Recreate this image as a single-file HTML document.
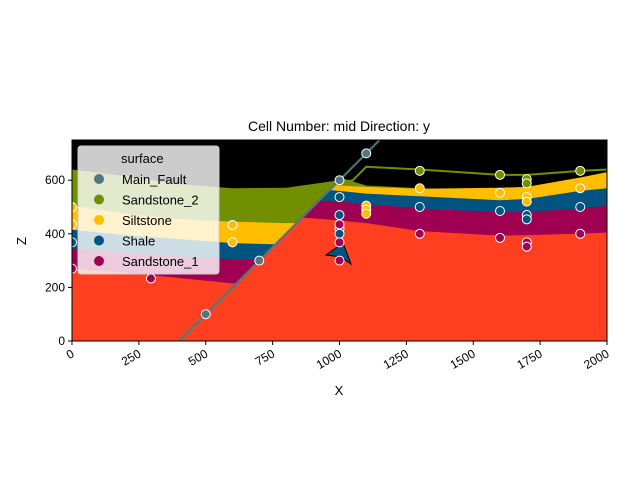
<!DOCTYPE html>
<html><head><meta charset="utf-8"><style>
body{margin:0;background:#fff;}
svg{display:block;font-family:"Liberation Sans","DejaVu Sans",sans-serif;}
</style></head><body>
<svg id="chart" width="640" height="480" viewBox="0 0 640 480">
<defs>
<clipPath id="clipL"><polygon points="72,140 378,140 178,341 72,341"/></clipPath>
<clipPath id="clipR"><polygon points="378,140 607,140 607,341 178,341"/></clipPath>
<clipPath id="clipAx"><rect x="72" y="140" width="535" height="201"/></clipPath>
</defs>
<text x="339" y="131" font-size="14" text-anchor="middle">Cell Number: mid Direction: y</text>
<rect x="72" y="140" width="535" height="201" fill="#000"/>
<g id="layers" clip-path="url(#clipAx)"></g>
<g id="marks" clip-path="url(#clipAx)"></g>
<g id="axes"></g>
<g id="legend">
<rect x="78" y="146" width="141" height="128" rx="3" fill="#fff" fill-opacity="0.8" stroke="#ccc"/>
<text x="121" y="163" font-size="13">surface</text>
</g>
<text x="339" y="395" font-size="13" text-anchor="middle">X</text>
<text x="26" y="241" font-size="13" text-anchor="middle" transform="rotate(-90 26 241)">Z</text>
</svg>
<script>
const surfaces=["Main_Fault","Sandstone_2","Siltstone","Shale","Sandstone_1"];
const colors=["#527682","#728f02","#ffbe00","#015482","#9f0052"];
const leftV=[0,200,400,600,800,1000,1200];
const leftOlive=[640,615,585,570,572,600,650];
const leftYellow=[505,475,455,445,440,440,440];
const leftBlue=[415,395,380,365,360,360,360];
const leftMagenta=[345,330,315,305,300,300,300];
const leftRed=[270,255,235,215,210,210,210];
const rightV=[400,800,1000,1100,1300,1600,1700,1900,2000];
const rightOlive=[660,640,610,580,570,560,562,585,600];
const rightYellow=[620,600,580,575,568,572,575,610,630];
const rightBlue=[590,575,560,550,540,525,530,560,570];
const rightMagenta=[545,530,520,510,495,480,482,495,505];
const rightRed=[480,465,450,440,410,393,395,400,405];
const oliveLineV=[1000,1050,1100,1300,1600,1700,1900,2000];
const oliveLineZ=[590,600,650,640,620,620,635,640];
const ptV=[500,700,1000,1100, 1300,1600,1700,1700,1900, 1100,1100,1100,1300,1600,1700,1700,1900,600,600,0,0, 1000,1000,1000,1000,1300,1600,1700,1700,1900,0, 1000,1000,1000,1300,1600,1700,1700,1900,295,0];
const ptZ=[100,300,600,700, 635,620,604,588,635, 505,490,475,570,553,537,520,570,433,368,500,435, 537,470,420,400,500,485,470,454,500,368, 435,368,300,400,385,368,352,400,233,270];
const ptS=[0,0,0,0, 1,1,1,1,1, 2,2,2,2,2,2,2,2,2,2,2,2, 3,3,3,3,3,3,3,3,3,3, 4,4,4,4,4,4,4,4,4,4];
const xTicks=[0,250,500,750,1000,1250,1500,1750,2000];
const yTicks=[0,200,400,600];
const NS='http://www.w3.org/2000/svg';
const X0=72,X1=607,Y0=341,Y1=140;
function sx(v){return X0+v*(X1-X0)/2000;}
function sz(z){return Y0-z*(Y0-Y1)/750;}
function mk(tag,attrs,parent){const e=document.createElementNS(NS,tag);for(const k in attrs)e.setAttribute(k,attrs[k]);parent.appendChild(e);return e;}
const layers=document.getElementById('layers');
function area(vs,zs,color,clip,name){
  let pts=vs.map((v,i)=>sx(v)+','+sz(zs[i]));
  pts.push(sx(vs[vs.length-1])+','+Y0,sx(vs[0])+','+Y0);
  const p=mk('polygon',{points:pts.join(' '),fill:color,'clip-path':'url(#'+clip+')'},layers);
  
  
}
area(leftV,leftOlive,'#728f02','clipL','left-sandstone2-layer');
area(leftV,leftYellow,'#ffbe00','clipL','left-siltstone-layer');
area(leftV,leftBlue,'#015482','clipL','left-shale-layer');
area(leftV,leftMagenta,'#9f0052','clipL','left-sandstone1-layer');
area(leftV,leftRed,'#ff3f20','clipL','left-basement-layer');
area(rightV,rightOlive,'#728f02','clipR','right-sandstone2-layer');
area(rightV,rightYellow,'#ffbe00','clipR','right-siltstone-layer');
area(rightV,rightBlue,'#015482','clipR','right-shale-layer');
area(rightV,rightMagenta,'#9f0052','clipR','right-sandstone1-layer');
area(rightV,rightRed,'#ff3f20','clipR','right-basement-layer');
const marks=document.getElementById('marks');
const ol=mk('polyline',{points:oliveLineV.map((v,i)=>sx(v)+','+sz(oliveLineZ[i])).join(' '),fill:'none',stroke:'#728f02','stroke-width':2},marks);


const fl=mk('line',{x1:sx(400),y1:sz(0),x2:sx(1150),y2:sz(750),stroke:'#527682','stroke-width':2},marks);


const ar=mk('polygon',{points:'326,255 343,243 351,264 341,257',fill:'#015482',stroke:'#000','stroke-width':1},marks);


for(let i=0;i<ptV.length;i++){
  const c=mk('circle',{cx:sx(ptV[i]),cy:sz(ptZ[i]),r:4.5,fill:colors[ptS[i]],stroke:'#fff','stroke-width':1},marks);
  
  
}
const axes=document.getElementById('axes');
const fr=mk('rect',{x:X0,y:Y1,width:X1-X0,height:Y0-Y1,fill:'none',stroke:'#000','stroke-width':1},axes);


xTicks.forEach(t=>{
  const x=sx(t);
  const l=mk('line',{x1:x,y1:Y0,x2:x,y2:Y0+4,stroke:'#000'},axes);
  
  
  const tx=mk('text',{x:x+3,y:Y0+15,'font-size':12,'text-anchor':'end',transform:'rotate(-30 '+(x+3)+' '+(Y0+15)+')'},axes);
  tx.textContent=t;
  
  
});
yTicks.forEach(t=>{
  const y=sz(t);
  const l=mk('line',{x1:X0-4,y1:y,x2:X0,y2:y,stroke:'#000'},axes);
  
  
  const tx=mk('text',{x:X0-7,y:y+4,'font-size':12,'text-anchor':'end'},axes);
  tx.textContent=t;
  
  
});
const lg=document.getElementById('legend');
surfaces.forEach((s,i)=>{
  const y=179+i*20.5;
  const c=mk('circle',{cx:99,cy:y,r:5,fill:colors[i]},lg);
  
  
  const t=mk('text',{x:122,y:y+5,'font-size':13},lg);
  t.textContent=s;
  
  
});
</script>
</body></html>
